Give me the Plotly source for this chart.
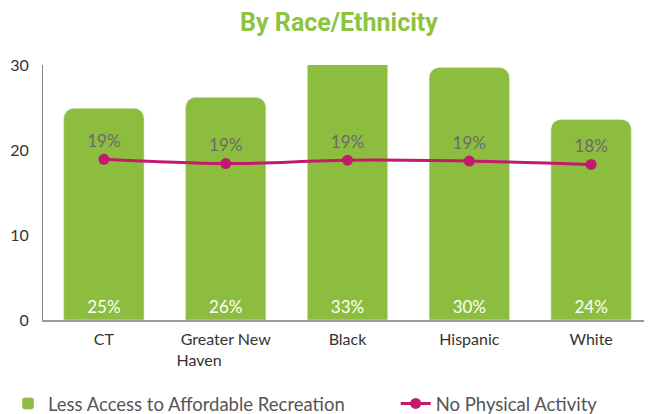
import plotly.graph_objects as go

# === Data ===
categories = ["CT", "Greater New<br>Haven" + "\u00a0" * 13, "Black", "Hispanic", "White"]
less_access = [24.9, 26.2, 33, 29.7, 23.6]          # bar heights (%)
less_access_labels = ["25%", "26%", "33%", "30%", "24%"]
no_activity = [18.9, 18.4, 18.8, 18.7, 18.3]        # line values (%)
no_activity_labels = ["19%", "19%", "19%", "19%", "18%"]
y_ticks = [0, 10, 20, 30]

GREEN = "#8dbd3e"
MAGENTA = "#c21a6e"

fig = go.Figure()

fig.add_trace(go.Bar(
    x=categories,
    y=less_access,
    text=less_access_labels,
    textposition="inside",
    insidetextanchor="start",
    textfont=dict(color="white", size=17, family="Lato"),
    marker=dict(color=GREEN, cornerradius=10),
    name="Less Access to Affordable Recreation",
    legend="legend",
    hoverinfo="skip",
))

fig.add_trace(go.Scatter(
    x=categories,
    y=no_activity,
    mode="lines+markers+text",
    text=no_activity_labels,
    textposition="top center",
    textfont=dict(color="#6b6b6b", size=17, family="Lato"),
    line=dict(color=MAGENTA, width=3, shape="spline"),
    marker=dict(color=MAGENTA, size=11),
    name="No Physical Activity",
    legend="legend2",
))

legend_font = dict(size=18.5, color="#555555", family="Lato")

# page body has an 8px margin, so the figure is sized/offset to compensate
fig.update_layout(
    width=644,
    height=406,
    margin=dict(l=35, r=0, t=57, b=94),
    plot_bgcolor="white",
    paper_bgcolor="white",
    font=dict(family="Lato", color="#333333", size=14),
    title=dict(
        text="<b>By Race/Ethnicity</b>",
        font=dict(family="Roboto", size=25, color="#8cc43f"),
        xref="container", x=0.514, xanchor="center",
        yref="container", y=0.965, yanchor="middle",
    ),
    bargap=0.34,
    showlegend=True,
    legend=dict(
        orientation="h",
        x=-0.009, xref="container", xanchor="left",
        y=0.025, yref="container", yanchor="middle",
        font=legend_font,
    ),
    legend2=dict(
        orientation="h",
        x=0.602, xref="container", xanchor="left",
        y=0.025, yref="container", yanchor="middle",
        itemwidth=30,
        font=legend_font,
    ),
)

fig.update_xaxes(
    range=[-0.5, 4.5],
    showline=True, linecolor="#999999", linewidth=1.5,
    ticks="", showgrid=False,
    ticklabelstandoff=4,
    tickfont=dict(size=16, color="#333333"),
)
fig.update_yaxes(
    range=[0, 30],
    tickvals=y_ticks,
    showline=True, linecolor="#888888", linewidth=1,
    ticks="", showgrid=False, zeroline=False,
    ticklabelstandoff=10,
    tickfont=dict(size=16, color="#333333"),
)

fig.write_html("out.html")
